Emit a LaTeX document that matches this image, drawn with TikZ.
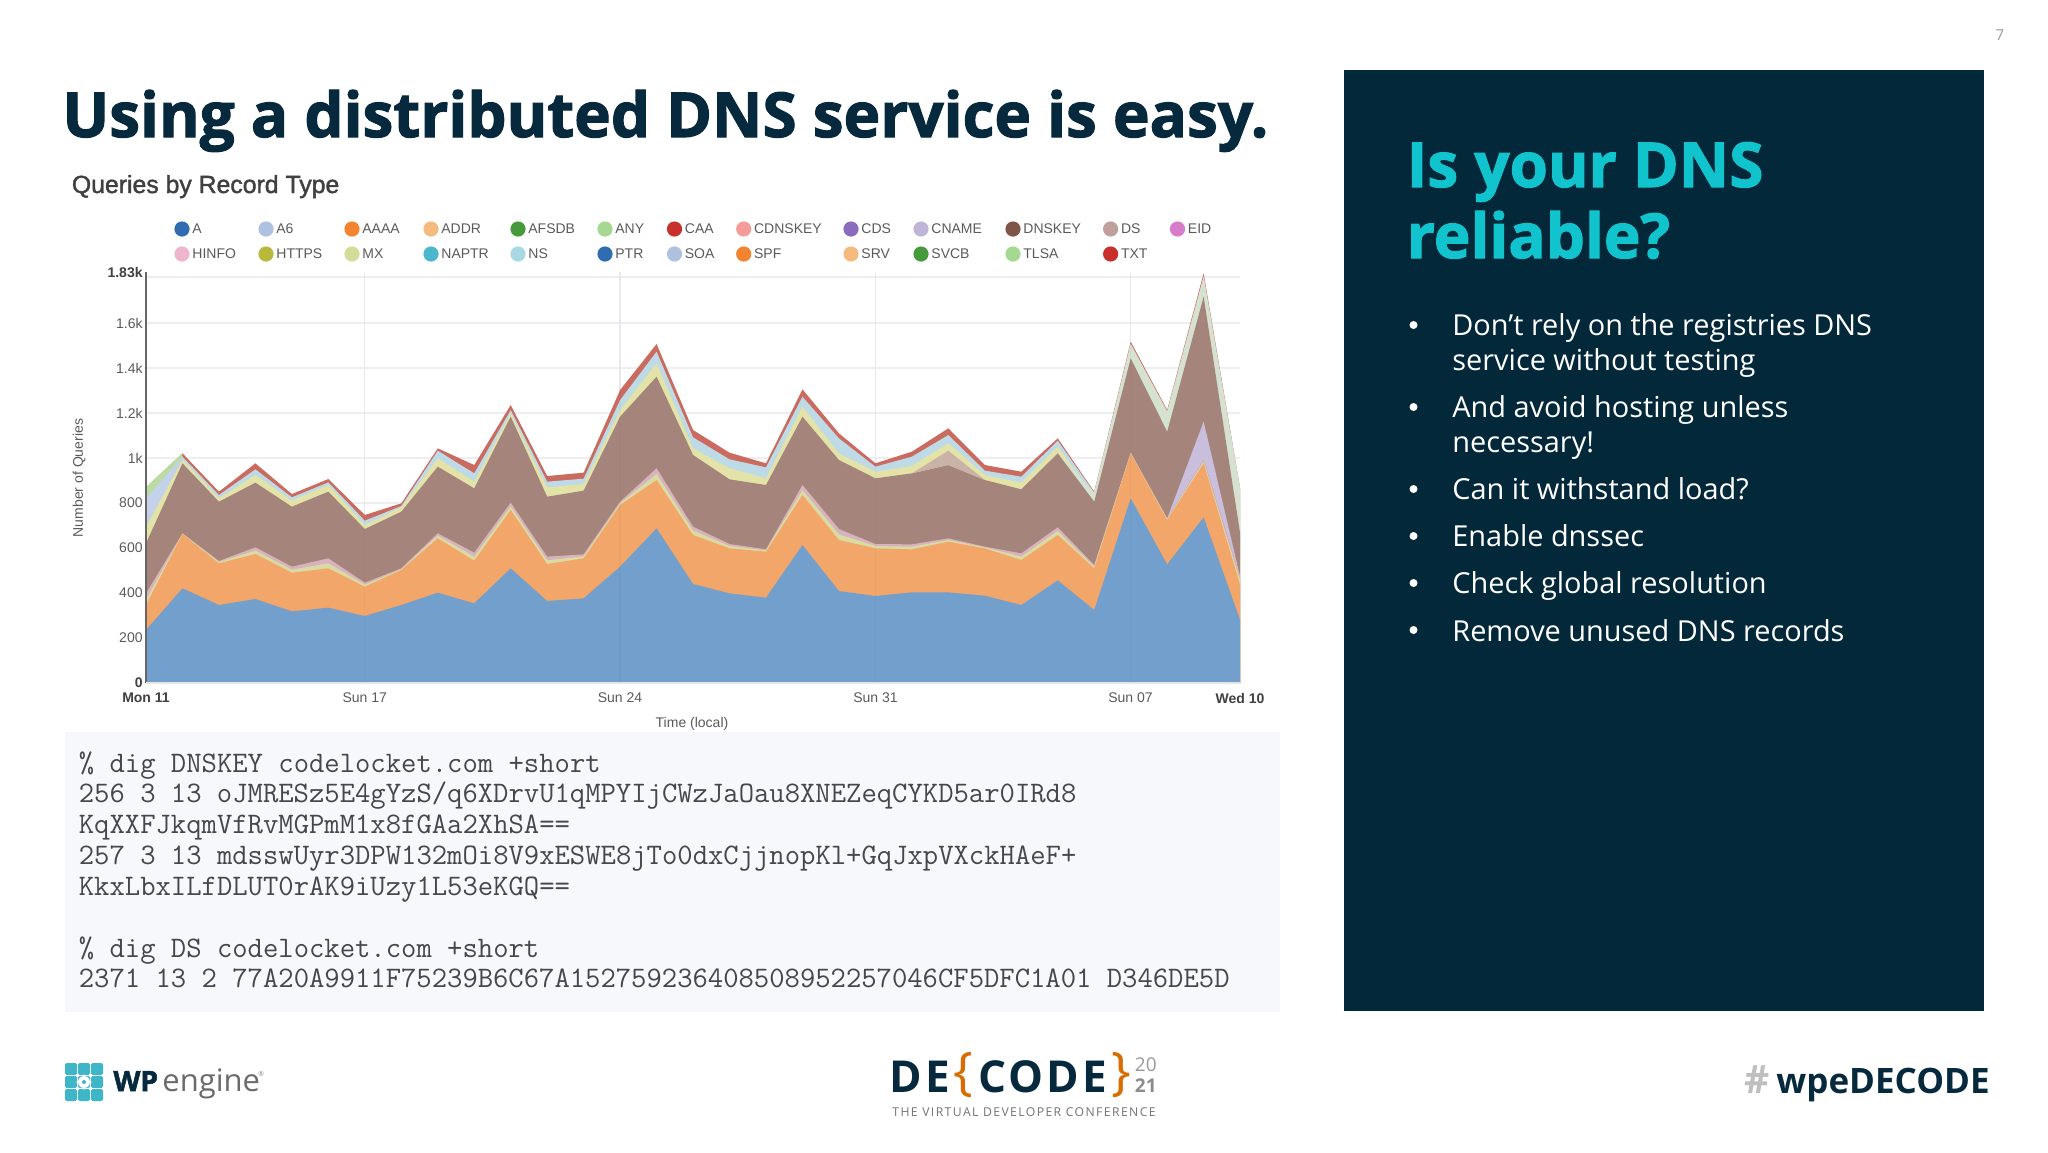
\documentclass[tikz,border=0pt]{standalone}
\usepackage{fontspec}
\setmainfont{Open Sans}
\newfontfamily\titlef[BoldFeatures={FakeBold=1.8}]{Open Sans}
\newfontfamily\chartf{Liberation Sans}
\newfontfamily\chartm[FakeBold=1.6]{Liberation Sans}
\newfontfamily\codef{Latin Modern Mono}
\newfontfamily\tagf[LetterSpace=11.5]{Open Sans}
\newfontfamily\decf[LetterSpace=7]{Open Sans}
\definecolor{navy}{HTML}{03283A}
\definecolor{titlec}{HTML}{07293D}
\definecolor{teal}{HTML}{10C3CD}
\definecolor{tile}{HTML}{3FB5C8}
\definecolor{codebg}{HTML}{F6F8FC}
\definecolor{gridc}{HTML}{EDEDF2}
\definecolor{labc}{HTML}{5A5A5A}
\definecolor{lA}{HTML}{2F6DB0}
\definecolor{lAb}{HTML}{AEC1E0}
\definecolor{lO}{HTML}{F28430}
\definecolor{lOb}{HTML}{F5BB7E}
\definecolor{lG}{HTML}{459A3C}
\definecolor{lGb}{HTML}{A5D890}
\definecolor{lR}{HTML}{C8302C}
\definecolor{lRb}{HTML}{F59C9A}
\definecolor{lP}{HTML}{8A6BBE}
\definecolor{lPb}{HTML}{C0B4D8}
\definecolor{lBr}{HTML}{7F5548}
\definecolor{lBrb}{HTML}{BFA09A}
\definecolor{lM}{HTML}{D87BC8}
\definecolor{lMb}{HTML}{EEB6CE}
\definecolor{lY}{HTML}{B8B83A}
\definecolor{lYb}{HTML}{D5DC98}
\definecolor{lC}{HTML}{4CB6CC}
\definecolor{lCb}{HTML}{A8D8E2}
\definecolor{arA}{HTML}{729FCB}
\definecolor{arO}{HTML}{F2A66A}
\definecolor{arT}{HTML}{D9DCA0}
\definecolor{arPk}{HTML}{D8B2BE}
\definecolor{arBr}{HTML}{A5857B}
\definecolor{arYl}{HTML}{E3E3A8}
\definecolor{arLb}{HTML}{BDDAE6}
\definecolor{arRd}{HTML}{CB6B60}
\definecolor{arLv}{HTML}{C9BEDB}
\definecolor{arBl}{HTML}{C3D2E8}
\definecolor{arGn}{HTML}{B9DCA0}
\definecolor{arTn}{HTML}{C9B3A6}
\definecolor{arPl}{HTML}{D6E2D0}
\newcommand{\arealayer}[2]{\fill[#1] (146,683) \foreach \v [count=\c from 0] in {#2} { -- ({146+36.47*\c},{430+\v/3}) } -- (1240,683) -- cycle;}
\newcommand{\zz}[2]{({146+36.47*#1},{430+#2/3})}
\tikzset{
  lt/.style={inner sep=0pt,anchor=base west},
  ctxt/.style={inner sep=0pt,font=\chartf\fontsize{7}{8}\selectfont,text=labc},
  cbold/.style={ctxt,font=\chartf\bfseries\fontsize{7}{8}\selectfont,text=black!75},
  code/.style={lt,font=\codef\fontsize{14.9}{16}\selectfont,text=black!72},
  bul/.style={lt,font=\fontsize{14.45}{17}\selectfont,text=white},
  dotb/.style={fill=white,circle,inner sep=0pt,minimum size=4pt},
  gridl/.style={gridc,line width=0.7pt},
  tiler/.style={fill=tile,rounded corners=0.8pt}
}
\begin{document}
\begin{tikzpicture}[x=0.5pt,y=-0.5pt]
\useasboundingbox (0,0) rectangle (2048,1152);
\fill[white] (0,0) rectangle (2048,1152);
% page number
\node[inner sep=0pt,text=black!40,font=\fontsize{7.5}{8}\selectfont] (pnum) at (2000,35) {7};
% title
\node[lt,font=\titlef\bfseries\fontsize{31}{36}\selectfont,text=titlec] (title) at (62,137) {Using a distributed DNS service is easy.};
% chart heading
\node[lt,font=\chartm\fontsize{12.4}{14}\selectfont,text=black!75] (chead) at (71.5,193) {Queries by Record Type};
% legend
\foreach \x/\cc/\lab/\yy in {182/lA/A/229,266/lAb/A6/229,352/lO/AAAA/229,431/lOb/ADDR/229,518/lG/AFSDB/229,605/lGb/ANY/229,674.5/lR/CAA/229,743.7/lRb/CDNSKEY/229,851/lP/CDS/229,921/lPb/CNAME/229,1013/lBr/DNSKEY/229,1110.6/lBrb/DS/229,1177.5/lM/EID/229,
 182/lMb/HINFO/254,266/lY/HTTPS/254,352/lYb/MX/254,431/lC/NAPTR/254,518/lCb/NS/254,605/lA/PTR/254,674.5/lAb/SOA/254,743.7/lO/SPF/254,851/lOb/SRV/254,921/lG/SVCB/254,1013/lGb/TLSA/254,1110.6/lR/TXT/254}{
  \fill[\cc] (\x,\yy) circle[radius=3.8pt];
  \node[ctxt,anchor=west] (leg\lab) at (\x+10,\yy) {\lab};
}
% grid
\foreach \yy in {277,323,368,413,458,503,548,593,638}{\draw[gridl] (146,\yy) -- (1240,\yy);}
\foreach \x in {364.7,620,875.5,1130.5}{\draw[gridl] (\x,272) -- (\x,683);}
% stacked areas
\arealayer{arRd}{172,70,185,100,192,147,255,220,55,105,-75,138,128,-120,-258,0,68,100,-122,10,100,65,-5,105,125,25,185,-265,-60,-470,175}
\arealayer{arLb}{172,80,195,118,202,157,272,228,62,130,-60,155,146,-90,-235,22,88,112,-100,25,110,80,15,122,140,32,188,-258,-55,-460,178}
\arealayer{arYl}{290,88,205,135,212,165,285,232,85,155,-50,172,162,-60,-200,55,115,145,-70,70,125,108,40,135,158,50,200,-230,-25,-440,180}
% pale tail of the upper layers
\fill[arPl] \zz{25}{70} -- \zz{26}{188} -- \zz{27}{-258} -- \zz{28}{-55} -- \zz{29}{-460} -- \zz{30}{178} -- \zz{30}{400} -- \zz{25}{400} -- cycle;
% left-edge patches
\fill[arGn] \zz{0}{172} -- \zz{1}{70} -- \zz{1}{80} -- \zz{0}{205} -- cycle;
\fill[arBl] \zz{0}{205} -- \zz{1}{80} -- \zz{1}{88} -- \zz{0}{290} -- cycle;
\arealayer{arBr}{340,100,215,158,230,185,297,245,110,175,-40,200,182,-40,-160,75,148,165,-40,90,145,130,105,150,178,70,215,-215,5,-400,310}
% DS patch
\fill[arTn] \zz{21}{130} -- \zz{22}{62} -- \zz{23}{150} -- \zz{22}{105} -- cycle;
% CNAME patch
\fill[arLv] \zz{28}{265} -- \zz{29}{-25} -- \zz{30}{440} -- \zz{29}{90} -- cycle;
\arealayer{arPk}{490,310,393,352,410,385,458,415,310,368,218,380,373,215,115,290,342,358,165,297,342,343,325,350,370,292,405,68,265,90,440}
\arealayer{arT}{510,311,396,362,419,400,464,418,317,380,229,391,379,220,132,302,348,361,180,313,348,350,330,352,380,303,410,69,267,95,452}
\arealayer{arO}{525,312,400,372,428,415,470,420,325,392,240,402,385,225,150,315,355,365,195,330,355,358,335,355,390,315,415,70,270,100,465}
\arealayer{arA}{600,475,525,507,544,533,558,525,488,520,415,513,505,410,295,462,490,503,345,483,498,487,487,497,525,451,540,205,403,262,570}
% faint grid over the areas
\foreach \x in {364.7,620,875.5,1130.5}{\draw[black,opacity=0.025,line width=0.6pt] (\x,272) -- (\x,683);}
% axis
\draw[black!60,line width=0.7pt] (146,272) -- (146,683);
\draw[black!10,line width=0.6pt] (146,683) -- (1240,683);
% y labels
\foreach \yy/\lab in {323/1.6k,368/1.4k,413/1.2k,458/1k,503/800,548/600,593/400,638/200}{
  \node[ctxt,anchor=east] (y\lab) at (143,\yy) {\lab};
}
\node[cbold,anchor=east] (ytop) at (143,272) {1.83k};
\node[cbold,anchor=east] (yzero) at (143,683) {0};
\node[ctxt,rotate=90] (yaxt) at (79,478) {Number of Queries};
% x labels
\node[cbold] (xa) at (146,698) {Mon 11};
\node[ctxt] (xb) at (364.7,698) {Sun 17};
\node[ctxt] (xc) at (620,698) {Sun 24};
\node[ctxt] (xd) at (875.5,698) {Sun 31};
\node[ctxt] (xe) at (1130.5,698) {Sun 07};
\node[cbold] (xf) at (1240,698) {Wed 10};
\node[ctxt] (xaxt) at (692,724) {Time (local)};
% code block
\fill[codebg] (65,732) rectangle (1280,1011.5);
\node[code] (c1) at (78.5,772) {\% dig DNSKEY codelocket.com +short};
\node[code] (c2) at (78.5,802.5) {256 3 13 oJMRESz5E4gYzS/q6XDrvU1qMPYIjCWzJaOau8XNEZeqCYKD5ar0IRd8};
\node[code] (c3) at (78.5,833.5) {KqXXFJkqmVfRvMGPmM1x8fGAa2XhSA==};
\node[code] (c4) at (78.5,864.5) {257 3 13 mdsswUyr3DPW132mOi8V9xESWE8jTo0dxCjjnopKl+GqJxpVXckHAeF+};
\node[code] (c5) at (78.5,895.5) {KkxLbxILfDLUT0rAK9iUzy1L53eKGQ==};
\node[code] (c6) at (78.5,957) {\% dig DS codelocket.com +short};
\node[code] (c7) at (78.5,987.5) {2371 13 2 77A20A9911F75239B6C67A152759236408508952257046CF5DFC1A01 D346DE5D};
% right panel
\fill[navy] (1344,70) rectangle (1984,1011);
\node[lt,font=\titlef\bfseries\fontsize{31}{34}\selectfont,text=teal] (h1) at (1406.5,187) {Is your DNS};
\node[lt,font=\titlef\bfseries\fontsize{31}{34}\selectfont,text=teal] (h2) at (1406.5,258) {reliable?};
\foreach \yy/\lab/\nm in {335/{Don’t rely on the registries DNS}/a,370.5/{service without testing}/b,417/{And avoid hosting unless}/c,452.5/{necessary!}/d,499/{Can it withstand load?}/e,546/{Enable dnssec}/f,593.5/{Check global resolution}/g,641/{Remove unused DNS records}/h}{
  \node[bul] (b\nm) at (1452,\yy) {\lab};
}
\foreach \yy/\nm in {325/a,407/c,489/e,536/f,583/g,630/h}{
  \node[dotb] (d\nm) at (1413.5,\yy) {};
}
% WP Engine logo
\foreach \i in {0,1,2}{\foreach \j in {0,1,2}{
  \fill[tiler] ({65+13*\i},{1063+13*\j}) rectangle ++(12,12);
}}
\fill[white] (84,1073) .. controls (84.5,1079) and (86,1081) .. (93,1082) .. controls (86,1083) and (84.5,1085) .. (84,1091) .. controls (83.5,1085) and (82,1083) .. (75,1082) .. controls (82,1081) and (83.5,1079) .. (84,1073) -- cycle;
\fill[white] (84,1082) circle[radius=3pt];
\fill[tile] (84,1082) circle[radius=1pt];
\node[lt,font=\titlef\bfseries\fontsize{14}{16}\selectfont,text=titlec] (wp) at (113,1091) {WP};
\node[lt,font=\fontsize{15.5}{18}\selectfont,text=black!58] (eng) at (162,1091) {engine};
\node[inner sep=0pt,font=\fontsize{3.5}{4}\selectfont,text=black!45] (reg) at (261,1074) {®};
% DECODE logo
\node[lt,font=\decf\bfseries\fontsize{22}{26}\selectfont,text=titlec] (de) at (889,1092) {DE};
\node[lt,font=\fontsize{26}{30}\selectfont,text=orange!85!black] (ob) at (953,1089) {\{};
\node[lt,font=\decf\bfseries\fontsize{22}{26}\selectfont,text=titlec] (cd) at (978,1092) {CODE};
\node[lt,font=\fontsize{26}{30}\selectfont,text=orange!85!black] (cb) at (1111,1089) {\}};
\node[lt,font=\fontsize{9.5}{10}\selectfont,text=black!40] (y20) at (1134.5,1071) {20};
\node[lt,font=\bfseries\fontsize{9.5}{10}\selectfont,text=black!45] (y21) at (1134.5,1092) {21};
\node[lt,font=\tagf\fontsize{6.1}{7}\selectfont,text=black!55] (tag) at (892,1116) {THE VIRTUAL DEVELOPER CONFERENCE};
% hashtag
\node[lt,font=\bfseries\fontsize{19.5}{20}\selectfont,text=black!25] (hash) at (1744.5,1093) {\#};
\node[lt,font=\bfseries\fontsize{17.5}{20}\selectfont,text=titlec] (hashb) at (1776,1093) {wpeDECODE};
\end{tikzpicture}
\end{document}
